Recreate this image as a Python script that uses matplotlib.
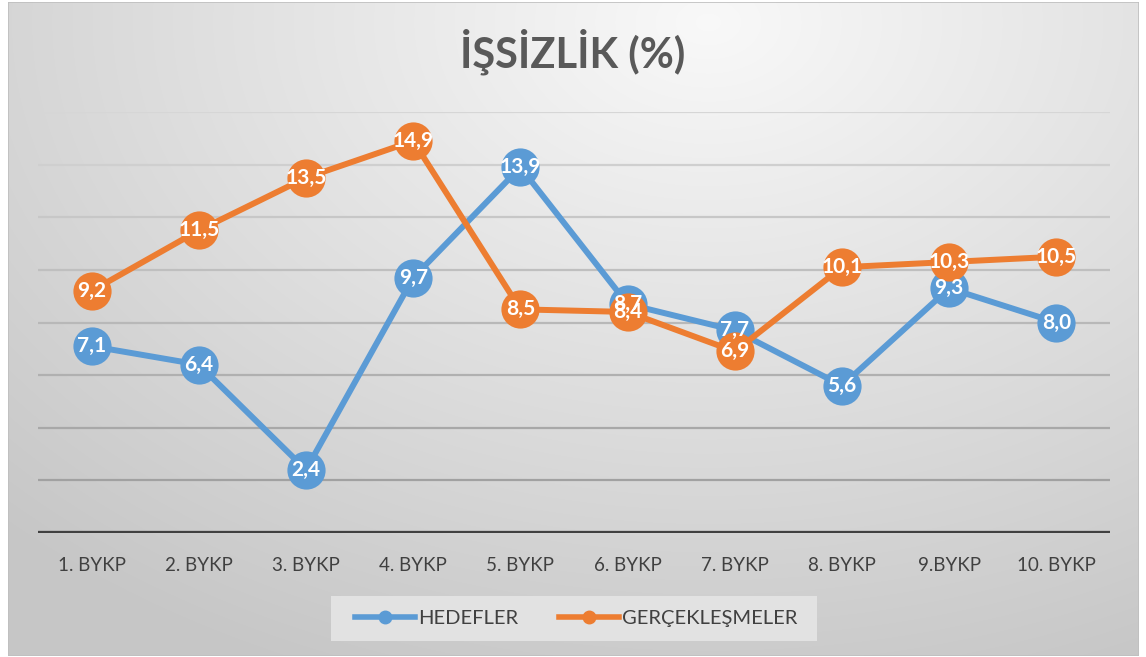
import numpy as np
import matplotlib
matplotlib.use("Agg")
import matplotlib.pyplot as plt
from matplotlib.lines import Line2D
from matplotlib.patches import Rectangle

# Veriler
donemler = ["1. BYKP", "2. BYKP", "3. BYKP", "4. BYKP", "5. BYKP",
            "6. BYKP", "7. BYKP", "8. BYKP", "9.BYKP", "10. BYKP"]
hedefler = [7.1, 6.4, 2.4, 9.7, 13.9, 8.7, 7.7, 5.6, 9.3, 8.0]
gerceklesmeler = [9.2, 11.5, 13.5, 14.9, 8.5, 8.4, 6.9, 10.1, 10.3, 10.5]

plt.rcParams["font.family"] = ["Lato", "DejaVu Sans"]

W, H = 1146, 657
fig = plt.figure(figsize=(W / 100, H / 100), dpi=100)
fig.patch.set_facecolor("white")

# Radyal gri arka plan
bg = fig.add_axes([8 / W, 1 - 656 / H, (1139 - 8) / W, (656 - 2) / H], zorder=-10)
yy, xx = np.mgrid[0:654, 0:1131]
r = np.sqrt(((xx - 700) / 1000.0) ** 2 + ((yy - 20) / 700.0) ** 2)
r = np.clip(r, 0, 1)
val = 0.975 - 0.195 * r
bg.imshow(np.dstack([val, val, val]), aspect="auto", interpolation="bilinear")
bg.set_axis_off()
bg.add_patch(Rectangle((0, 0), 1, 1, transform=bg.transAxes, fill=False,
                       edgecolor="#bfbfbf", linewidth=1.2))

ax = fig.add_axes([38 / W, 1 - 533 / H, (1110 - 38) / W, (533 - 112) / H])
ax.set_facecolor("none")
x = np.arange(len(donemler))
ax.set_xlim(-0.5, len(donemler) - 0.5)
ax.set_ylim(0, 16)

# Yatay kılavuz çizgiler (yukarıdan aşağıya koyulaşıyor)
for yv in range(2, 17, 2):
    t = yv / 16.0
    g = 0.6 + 0.24 * t
    ax.axhline(yv, color=(g, g, g), linewidth=1.6, zorder=1)
ax.axhline(0, color="#404040", linewidth=3.8, zorder=2)

for s in ax.spines.values():
    s.set_visible(False)
ax.set_yticks([])
ax.set_xticks(x)
ax.set_xticklabels(donemler, fontsize=13.5, color="#404040")
ax.tick_params(axis="x", length=0, pad=17)

mavi = "#5B9BD5"
turuncu = "#ED7D31"
ax.plot(x, hedefler, color=mavi, linewidth=4.3, marker="o", markersize=27.5,
        markeredgewidth=0, clip_on=False, zorder=3, solid_capstyle="round")
ax.plot(x, gerceklesmeler, color=turuncu, linewidth=4.3, marker="o", markersize=27.5,
        markeredgewidth=0, clip_on=False, zorder=4, solid_capstyle="round")

for xi, v in zip(x, hedefler):
    ax.text(xi, v, f"{v:.1f}".replace(".", ","), ha="center", va="center",
            color="white", fontsize=15, fontweight="bold", zorder=6)
for xi, v in zip(x, gerceklesmeler):
    ax.text(xi, v, f"{v:.1f}".replace(".", ","), ha="center", va="center",
            color="white", fontsize=15, fontweight="bold", zorder=6)

fig.text(573 / W, 1 - 52 / H, "İŞSİZLİK (%)", ha="center", va="center",
         fontsize=30, fontweight="bold", color="#595959")

# Lejant
fig.patches.append(Rectangle((331 / W, 1 - 641 / H), (817 - 331) / W, (641 - 596) / H,
                             transform=fig.transFigure, facecolor="#e2e2e2",
                             edgecolor="none", zorder=0))
tutamaclar = [
    Line2D([], [], color=mavi, linewidth=4, marker="o", markersize=9),
    Line2D([], [], color=turuncu, linewidth=4, marker="o", markersize=9),
]
fig.legend(tutamaclar, ["HEDEFLER", "GERÇEKLEŞMELER"], loc="center",
           bbox_to_anchor=(576 / W, 1 - 618 / H), ncol=2, frameon=False,
           fontsize=14.5, labelcolor="#404040", handlelength=3.0,
           handletextpad=0.15, columnspacing=2.0)

fig.savefig("out.png", dpi=100)
